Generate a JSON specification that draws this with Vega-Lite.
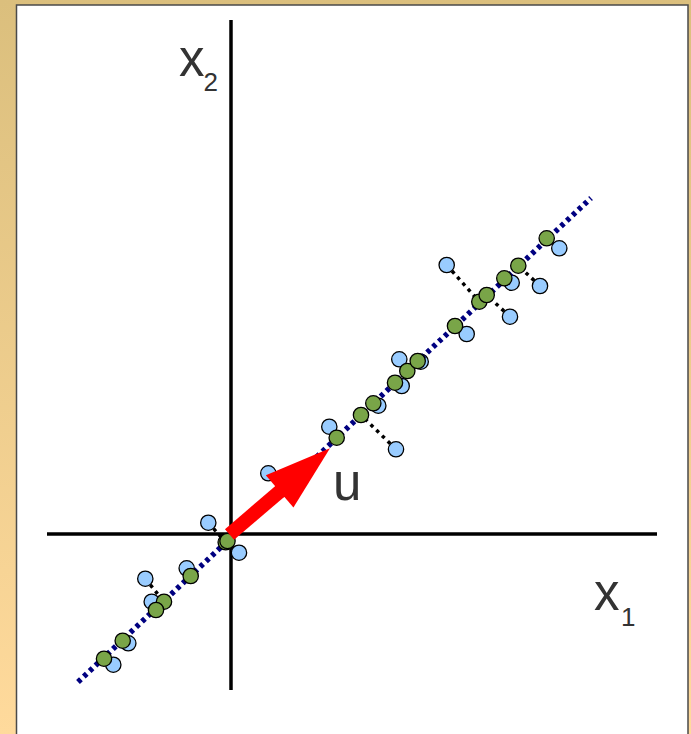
{
  "$schema": "https://vega.github.io/schema/vega-lite/v6.json",
  "width": 691,
  "height": 734,
  "autosize": {"type": "fit", "contains": "padding"},
  "padding": 0,
  "background": "#ffffff",
  "config": {"view": {"stroke": null}, "axis": {"disable": true}, "legend": {"disable": true}},
  "datasets": {
    "frame": [{"x": -4.62, "x2": 9.2, "y": 10.68, "y2": -4}],
    "panel": [{"x": -4.29, "x2": 9.14, "y": 10.58, "y2": -4.3}],
    "axes": [
      {"x": 0, "x2": 0, "y": -3.12, "y2": 10.28},
      {"x": -3.68, "x2": 8.52, "y": 0, "y2": 0}
    ],
    "pca": [{"x": -3.06, "y": -2.96, "x2": 7.2, "y2": 6.72}],
    "pts": [
      {"bx": -2.354, "by": -2.614, "gx": -2.54, "gy": -2.494},
      {"bx": -2.054, "by": -2.186, "gx": -2.166, "gy": -2.134},
      {"bx": -1.714, "by": -0.894, "gx": -1.34, "gy": -1.354},
      {"bx": -1.586, "by": -1.354, "gx": -1.5, "gy": -1.52},
      {"bx": -0.886, "by": -0.686, "gx": -0.806, "gy": -0.84},
      {"bx": -0.454, "by": 0.226, "gx": -0.106, "gy": -0.166},
      {"bx": 0.16, "by": -0.374, "gx": -0.07, "gy": -0.14},
      {"bx": 0.746, "by": 1.214, "gx": 1.04, "gy": 0.9},
      {"bx": 1.966, "by": 2.146, "gx": 2.114, "gy": 1.926},
      {"bx": 3.3, "by": 1.694, "gx": 2.6, "gy": 2.38},
      {"bx": 2.946, "by": 2.566, "gx": 2.846, "gy": 2.614},
      {"bx": 3.414, "by": 2.96, "gx": 3.28, "gy": 3.026},
      {"bx": 3.366, "by": 3.494, "gx": 3.526, "gy": 3.26},
      {"bx": 3.794, "by": 3.446, "gx": 3.734, "gy": 3.46},
      {"bx": 4.714, "by": 4.0, "gx": 4.48, "gy": 4.16},
      {"bx": 4.314, "by": 5.38, "gx": 4.966, "gy": 4.646},
      {"bx": 5.58, "by": 4.346, "gx": 5.114, "gy": 4.78},
      {"bx": 5.614, "by": 5.026, "gx": 5.466, "gy": 5.114},
      {"bx": 6.18, "by": 4.96, "gx": 5.746, "gy": 5.366},
      {"bx": 6.566, "by": 5.714, "gx": 6.314, "gy": 5.914}
    ],
    "arrow": [{"x": -0.03, "y": -0.01, "x2": 1.066, "y2": 0.928}],
    "head": [{"x": 1.476, "y": 1.282}],
    "bigText": [
      {"label": "x", "x": -1.04, "y": 9.16},
      {"label": "x", "x": 7.26, "y": -1.52},
      {"label": "u", "x": 2.04, "y": 0.68}
    ],
    "subText": [
      {"label": "2", "x": -0.55, "y": 8.866},
      {"label": "1", "x": 7.8, "y": -1.84}
    ]
  },
  "layer": [
    {
      "data": {"name": "frame"},
      "mark": {"type": "rect", "color": {"gradient": "linear", "x1": 0, "y1": 0, "x2": 0, "y2": 1, "stops": [{"offset": 0, "color": "#DBBF7D"}, {"offset": 1, "color": "#FFDA9C"}]}},
      "encoding": {
        "x": {"field": "x", "type": "quantitative", "scale": {"domain": [-4.62, 9.2], "nice": false, "zero": false}, "axis": null},
        "x2": {"field": "x2"},
        "y": {"field": "y", "type": "quantitative", "scale": {"domain": [-4, 10.68], "nice": false, "zero": false}, "axis": null},
        "y2": {"field": "y2"}
      }
    },
    {
      "data": {"name": "panel"},
      "mark": {"type": "rect", "fill": "#ffffff", "stroke": "#4a4a4a", "strokeWidth": 1.5, "clip": true},
      "encoding": {
        "x": {"field": "x", "type": "quantitative", "scale": {"domain": [-4.62, 9.2], "nice": false, "zero": false}, "axis": null},
        "x2": {"field": "x2"},
        "y": {"field": "y", "type": "quantitative", "scale": {"domain": [-4, 10.68], "nice": false, "zero": false}, "axis": null},
        "y2": {"field": "y2"}
      }
    },
    {
      "data": {"name": "axes"},
      "mark": {"type": "rule", "color": "#000000", "strokeWidth": 3.5, "strokeCap": "butt"},
      "encoding": {
        "x": {"field": "x", "type": "quantitative", "scale": {"domain": [-4.62, 9.2], "nice": false, "zero": false}, "axis": null},
        "x2": {"field": "x2"},
        "y": {"field": "y", "type": "quantitative", "scale": {"domain": [-4, 10.68], "nice": false, "zero": false}, "axis": null},
        "y2": {"field": "y2"}
      }
    },
    {
      "data": {"name": "pts"},
      "mark": {"type": "rule", "color": "#000000", "strokeWidth": 3.5, "strokeDash": [3.5, 4.5], "strokeCap": "butt"},
      "encoding": {
        "x": {"field": "bx", "type": "quantitative", "scale": {"domain": [-4.62, 9.2], "nice": false, "zero": false}, "axis": null},
        "x2": {"field": "gx"},
        "y": {"field": "by", "type": "quantitative", "scale": {"domain": [-4, 10.68], "nice": false, "zero": false}, "axis": null},
        "y2": {"field": "gy"}
      }
    },
    {
      "data": {"name": "pts"},
      "mark": {"type": "point", "shape": "circle", "filled": true, "fill": "#99CCFF", "stroke": "#000000", "strokeWidth": 1.3, "size": 235, "opacity": 1},
      "encoding": {
        "x": {"field": "bx", "type": "quantitative", "scale": {"domain": [-4.62, 9.2], "nice": false, "zero": false}, "axis": null},
        "y": {"field": "by", "type": "quantitative", "scale": {"domain": [-4, 10.68], "nice": false, "zero": false}, "axis": null}
      }
    },
    {
      "data": {"name": "pca"},
      "mark": {"type": "rule", "color": "#000080", "strokeWidth": 5.5, "strokeDash": [4, 4], "strokeCap": "butt"},
      "encoding": {
        "x": {"field": "x", "type": "quantitative", "scale": {"domain": [-4.62, 9.2], "nice": false, "zero": false}, "axis": null},
        "x2": {"field": "x2"},
        "y": {"field": "y", "type": "quantitative", "scale": {"domain": [-4, 10.68], "nice": false, "zero": false}, "axis": null},
        "y2": {"field": "y2"}
      }
    },
    {
      "data": {"name": "pts"},
      "mark": {"type": "point", "shape": "circle", "filled": true, "fill": "#79A548", "stroke": "#000000", "strokeWidth": 1.3, "size": 235, "opacity": 1},
      "encoding": {
        "x": {"field": "gx", "type": "quantitative", "scale": {"domain": [-4.62, 9.2], "nice": false, "zero": false}, "axis": null},
        "y": {"field": "gy", "type": "quantitative", "scale": {"domain": [-4, 10.68], "nice": false, "zero": false}, "axis": null}
      }
    },
    {
      "data": {"name": "arrow"},
      "mark": {"type": "rule", "color": "#FF0000", "strokeWidth": 14, "strokeCap": "butt"},
      "encoding": {
        "x": {"field": "x", "type": "quantitative", "scale": {"domain": [-4.62, 9.2], "nice": false, "zero": false}, "axis": null},
        "x2": {"field": "x2"},
        "y": {"field": "y", "type": "quantitative", "scale": {"domain": [-4, 10.68], "nice": false, "zero": false}, "axis": null},
        "y2": {"field": "y2"}
      }
    },
    {
      "data": {"name": "head"},
      "mark": {"type": "point", "shape": "M0,-1L-0.64,1L0.64,1Z", "filled": true, "fill": "#FF0000", "strokeWidth": 0, "size": 4396, "angle": 49.4, "opacity": 1},
      "encoding": {
        "x": {"field": "x", "type": "quantitative", "scale": {"domain": [-4.62, 9.2], "nice": false, "zero": false}, "axis": null},
        "y": {"field": "y", "type": "quantitative", "scale": {"domain": [-4, 10.68], "nice": false, "zero": false}, "axis": null}
      }
    },
    {
      "data": {"name": "bigText"},
      "mark": {"type": "text", "font": "Liberation Sans", "fontSize": 51, "color": "#333333", "align": "left", "baseline": "alphabetic"},
      "encoding": {
        "x": {"field": "x", "type": "quantitative", "scale": {"domain": [-4.62, 9.2], "nice": false, "zero": false}, "axis": null},
        "y": {"field": "y", "type": "quantitative", "scale": {"domain": [-4, 10.68], "nice": false, "zero": false}, "axis": null},
        "text": {"field": "label"}
      }
    },
    {
      "data": {"name": "subText"},
      "mark": {"type": "text", "font": "Liberation Sans", "fontSize": 26, "color": "#333333", "align": "left", "baseline": "alphabetic"},
      "encoding": {
        "x": {"field": "x", "type": "quantitative", "scale": {"domain": [-4.62, 9.2], "nice": false, "zero": false}, "axis": null},
        "y": {"field": "y", "type": "quantitative", "scale": {"domain": [-4, 10.68], "nice": false, "zero": false}, "axis": null},
        "text": {"field": "label"}
      }
    }
  ]
}
